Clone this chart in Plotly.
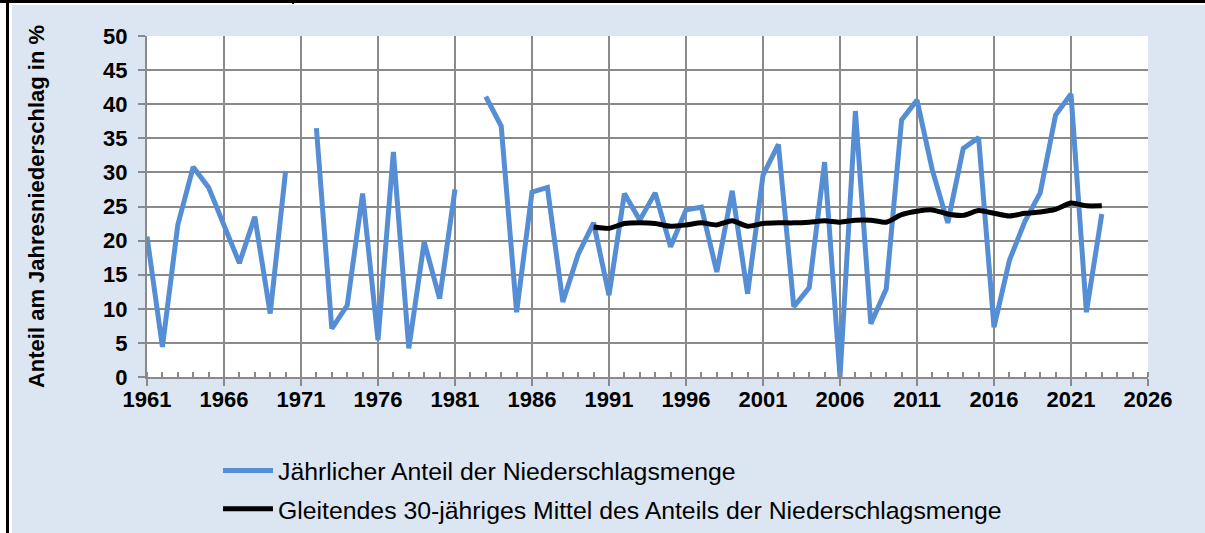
import plotly.graph_objects as go

years = list(range(1961, 2024))

annual_share = [
    20.6, 4.4, 22.3, 30.8, 27.8, 22.0, 16.7, 23.5, 9.3, 30.2,   # 1961-1970
    None, 36.5, 7.1, 10.5, 26.9, 5.4, 33.0, 4.2, 19.8, 11.5,    # 1971-1980
    27.5, None, 41.1, 36.8, 9.5, 27.1, 27.8, 11.0, 18.0, 22.6,  # 1981-1990
    12.0, 26.9, 23.0, 27.0, 19.1, 24.5, 24.9, 15.4, 27.3, 12.2, # 1991-2000
    29.6, 34.1, 10.3, 13.1, 31.5, 0.0, 39.0, 7.8, 12.9, 37.7,   # 2001-2010
    40.6, 30.3, 22.6, 33.5, 35.1, 7.3, 17.1, 22.8, 27.0, 38.4,  # 2011-2020
    41.5, 9.5, 23.9,                                             # 2021-2023
]

avg_years = list(range(1990, 2024))
moving_avg_30 = [
    22.0, 21.8, 22.5, 22.6, 22.5, 22.1, 22.3, 22.6, 22.3, 22.9,  # 1990-1999
    22.1, 22.5, 22.6, 22.6, 22.7, 22.9, 22.7, 23.0, 23.0, 22.7,  # 2000-2009
    23.8, 24.3, 24.5, 23.9, 23.7, 24.4, 24.0, 23.6, 24.0, 24.2,  # 2010-2019
    24.6, 25.5, 25.1, 25.1,                                      # 2020-2023
]

x_ticks = list(range(1961, 2027, 5))
y_ticks = list(range(0, 51, 5))

label_annual = "Jährlicher Anteil der Niederschlagsmenge"
label_avg = "Gleitendes 30-jähriges Mittel des Anteils der Niederschlagsmenge"
y_title = "Anteil am Jahresniederschlag in %"

W, H = 1205, 533
L, R, T, B = 147, 1148, 36, 377  # plot area in px

def px_x(px):
    return (px - L) / (R - L)

def px_y(py):
    return (B - py) / (B - T)

FONT = "Liberation Sans, Arial"
BG = "#dce6f2"

fig = go.Figure()
fig.add_trace(go.Scatter(
    x=years, y=annual_share, mode="lines", name=label_annual,
    line=dict(color="#558ed5", width=5), connectgaps=False,
    legendgroup="a",
))
fig.add_trace(go.Scatter(
    x=avg_years, y=moving_avg_30, mode="lines", name=label_avg,
    line=dict(color="#000000", width=5, shape="spline", smoothing=0.6),
    legendgroup="b",
))

grid_col = "#8a8a8a"
fig.update_xaxes(
    range=[1961, 2026], tickmode="array", tickvals=x_ticks,
    ticktext=[str(v) for v in x_ticks],
    showgrid=True, gridcolor=grid_col, gridwidth=2,
    showline=True, linecolor=grid_col, linewidth=2,
    ticks="outside", ticklen=7, tickwidth=2, tickcolor=grid_col,
    minor=dict(ticks="inside", dtick=1, tick0=1961, ticklen=5, tickwidth=1.5,
               tickcolor=grid_col, showgrid=False),
    tickfont=dict(family=FONT, size=22, color="#000000", weight="bold"),
    ticklabelstandoff=-5,
    zeroline=False,
)
fig.update_yaxes(
    range=[0, 50], tickmode="array", tickvals=y_ticks,
    showgrid=True, gridcolor=grid_col, gridwidth=2,
    showline=True, linecolor=grid_col, linewidth=2,
    ticks="outside", ticklen=7, tickwidth=2, tickcolor=grid_col,
    tickfont=dict(family=FONT, size=22, color="#000000", weight="bold"),
    ticklabelstandoff=6,
    title=dict(text=y_title, standoff=52,
               font=dict(family=FONT, size=22, color="#000000", weight="bold")),
    zeroline=False,
)

shapes = [
    # white strips at left and top
    dict(type="rect", xref="paper", yref="paper", x0=px_x(0), x1=px_x(12), y0=px_y(H), y1=px_y(0),
         fillcolor="#ffffff", line=dict(width=0), layer="below"),
    dict(type="rect", xref="paper", yref="paper", x0=px_x(0), x1=px_x(W), y0=px_y(5), y1=px_y(0),
         fillcolor="#ffffff", line=dict(width=0), layer="below"),
    # black frame pieces (filled rects)
    dict(type="rect", xref="paper", yref="paper", x0=px_x(0), x1=px_x(W), y0=px_y(3), y1=px_y(0),
         fillcolor="#000000", line=dict(width=0)),
    dict(type="rect", xref="paper", yref="paper", x0=px_x(6), x1=px_x(9), y0=px_y(H), y1=px_y(0),
         fillcolor="#000000", line=dict(width=0)),
    dict(type="rect", xref="paper", yref="paper", x0=px_x(292), x1=px_x(294), y0=px_y(4), y1=px_y(0),
         fillcolor="#000000", line=dict(width=0)),
    # keep right edge in the background colour
    dict(type="rect", xref="paper", yref="paper", x0=px_x(1198), x1=px_x(W), y0=px_y(H), y1=px_y(5),
         fillcolor=BG, line=dict(width=0)),
]

fig.update_layout(
    width=W, height=H,
    margin=dict(l=L, r=W - R, t=T, b=H - B, autoexpand=False),
    paper_bgcolor=BG, plot_bgcolor="#ffffff",
    shapes=shapes,
    showlegend=True,
    legend=dict(
        x=px_x(218), y=px_y(448), xanchor="left", yanchor="top",
        bgcolor="rgba(0,0,0,0)", traceorder="grouped", tracegroupgap=3,
        font=dict(family=FONT, size=24.8, color="#000000"),
        itemwidth=50,
    ),
)

fig.write_html(
    "out.html",
    config={"displayModeBar": False},
    post_script="document.body.style.margin='0';document.body.style.overflow='hidden';",
)
